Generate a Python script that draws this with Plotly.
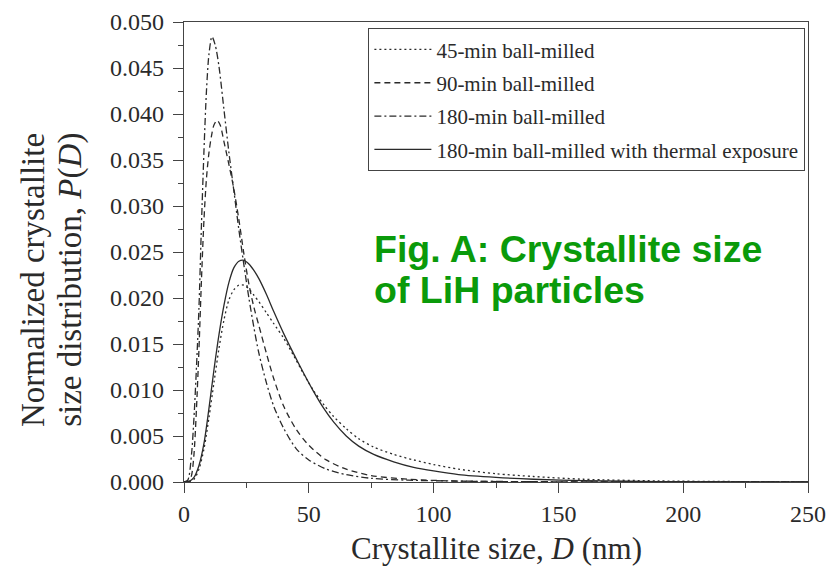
import plotly.graph_objects as go

# ---- data ----
D_45 = [0, 2, 4, 6, 8, 10, 12, 14, 16, 18, 20, 22, 24, 26, 28, 30, 33, 36, 40, 44, 48, 52, 56, 60,
        65, 70, 76, 84, 92, 100, 110, 125, 140, 160, 190, 220, 250]
P_45 = [0, 0.00003, 0.0003, 0.0014, 0.0036, 0.0070, 0.0108, 0.0145, 0.0176, 0.0198, 0.0209, 0.0214,
        0.0214, 0.0210, 0.0203, 0.0196, 0.0184, 0.0172, 0.0156, 0.0137, 0.0117, 0.0099, 0.0084,
        0.0071, 0.0058, 0.0047, 0.0038, 0.0030, 0.0024, 0.0019, 0.0014, 0.0009, 0.0006, 0.0003,
        0.00012, 0.00005, 0.00002]

D_90 = [0, 2, 3, 4, 5, 6, 7, 8, 9, 10, 11, 12, 13.3, 14.5, 16, 18, 20, 22, 24, 26, 28, 30, 33, 36,
        40, 45, 50, 57, 65, 75, 90, 110, 140, 250]
P_90 = [0, 0.0001, 0.0007, 0.0030, 0.0080, 0.0145, 0.0220, 0.0285, 0.0330, 0.0358, 0.0376, 0.0388,
        0.0393, 0.0388, 0.0370, 0.0345, 0.0318, 0.0285, 0.0248, 0.0215, 0.0190, 0.0170, 0.0140,
        0.0112, 0.0082, 0.0057, 0.0040, 0.0024, 0.0014, 0.0007, 0.0003, 0.0001, 0.00003, 0]

D_180 = [0, 1.5, 3, 4, 5, 6, 7, 8, 9, 10, 11.2, 12.5, 14, 16, 18, 20, 22, 24, 26, 28, 30, 33, 36,
         40, 45, 50, 57, 65, 75, 90, 110, 140, 250]
P_180 = [0, 0.0002, 0.0030, 0.0070, 0.0125, 0.0190, 0.0280, 0.0360, 0.0425, 0.0465, 0.0484, 0.0475,
         0.0452, 0.0405, 0.0358, 0.0316, 0.0274, 0.0236, 0.0200, 0.0168, 0.0140, 0.0108, 0.0082,
         0.0058, 0.0036, 0.0024, 0.0014, 0.0008, 0.0004, 0.0002, 0.0001, 0.00003, 0]

D_th = [0, 2, 4, 6, 8, 10, 12, 14, 16, 18, 20, 22, 24, 26, 28, 30, 33, 36, 40, 44, 48, 52, 56, 60,
        65, 70, 76, 84, 92, 100, 110, 125, 140, 160, 190, 250]
P_th = [0, 0.00005, 0.0005, 0.0018, 0.0042, 0.0080, 0.0122, 0.0160, 0.0192, 0.0217, 0.0233, 0.0240,
        0.0241, 0.0237, 0.0230, 0.0221, 0.0204, 0.0185, 0.0161, 0.0139, 0.0118, 0.0098, 0.0080,
        0.0065, 0.0050, 0.0039, 0.0030, 0.0022, 0.0016, 0.0012, 0.0008, 0.0005, 0.0003, 0.00015,
        0.00005, 0]

names = ["45-min ball-milled", "90-min ball-milled", "180-min ball-milled",
         "180-min ball-milled with thermal exposure"]

x_ticks = [0, 50, 100, 150, 200, 250]
y_ticks = [0.000, 0.005, 0.010, 0.015, 0.020, 0.025, 0.030, 0.035, 0.040, 0.045, 0.050]

SERIF = "Liberation Serif, Times New Roman, serif"
SANS = "Liberation Sans, Arial, sans-serif"
INK = "#2a2a2a"
AX = "#444"
GREEN = "#0a9a0a"

series = [(D_45, P_45, "2px,3px"), (D_90, P_90, "6px,4px"),
          (D_180, P_180, "7px,3px,2px,3px"), (D_th, P_th, "solid")]

fig = go.Figure()
for i, ((dx, py, dash), nm) in enumerate(zip(series, names)):
    fig.add_trace(go.Scatter(x=dx, y=py, mode="lines", name=nm, legendgroup=f"g{i}",
                             line=dict(color=INK, width=1.3, dash=dash, shape="spline",
                                       smoothing=0.8)))

axis_common = dict(showline=True, linecolor=AX, linewidth=1.3, mirror=True,
                   showgrid=False, zeroline=False, ticks="outside", ticklen=10,
                   tickwidth=1.3, tickcolor=AX, automargin=False,
                   tickfont=dict(family=SERIF, size=24, color=INK))

fig.update_xaxes(range=[0, 250], tickvals=x_ticks, ticktext=[str(v) for v in x_ticks],
                 minor=dict(ticks="outside", ticklen=5, tickwidth=1.3, tickcolor=AX, dtick=25),
                 **axis_common)
fig.update_yaxes(range=[0, 0.05], tickvals=y_ticks, ticktext=[f"{v:.3f}" for v in y_ticks],
                 ticklabelstandoff=4,
                 minor=dict(ticks="outside", ticklen=5, tickwidth=1.3, tickcolor=AX,
                            dtick=0.0025, tick0=0),
                 **axis_common)

fig.update_layout(
    width=828, height=573,
    margin=dict(l=184, r=20, t=22, b=91, autoexpand=False),
    paper_bgcolor="white", plot_bgcolor="white",
    showlegend=True,
    legend=dict(x=0.295, y=0.987, xanchor="left", yanchor="top",
                bgcolor="white", bordercolor=AX, borderwidth=1.3,
                font=dict(family=SERIF, size=21, color=INK),
                tracegroupgap=3, itemwidth=57),
    annotations=[
        dict(text="Crystallite size, <i>D</i> (nm)", xref="paper", yref="paper",
             x=0.5, y=-0.1435, xanchor="center", yanchor="middle", showarrow=False,
             font=dict(family=SERIF, size=31, color=INK)),
        dict(text="Normalized crystallite", xref="paper", yref="paper",
             x=-0.242, y=0.439, xanchor="center", yanchor="middle", textangle=-90,
             showarrow=False, font=dict(family=SERIF, size=33, color=INK)),
        dict(text="size distribution, <i>P</i>(<i>D</i>)", xref="paper", yref="paper",
             x=-0.183, y=0.439, xanchor="center", yanchor="middle", textangle=-90,
             showarrow=False, font=dict(family=SERIF, size=33, color=INK)),
        dict(text="<b>Fig. A: Crystallite size</b>", xref="paper", yref="paper",
             x=0.302, y=0.506, xanchor="left", yanchor="middle", showarrow=False,
             font=dict(family=SANS, size=37.5, color=GREEN)),
        dict(text="<b>of LiH particles</b>", xref="paper", yref="paper",
             x=0.302, y=0.417, xanchor="left", yanchor="middle", showarrow=False,
             font=dict(family=SANS, size=37.5, color=GREEN)),
    ],
)

fig.write_html("out.html", config={"displayModeBar": False},
               post_script="document.body.style.margin='0';document.body.style.padding='0';")
